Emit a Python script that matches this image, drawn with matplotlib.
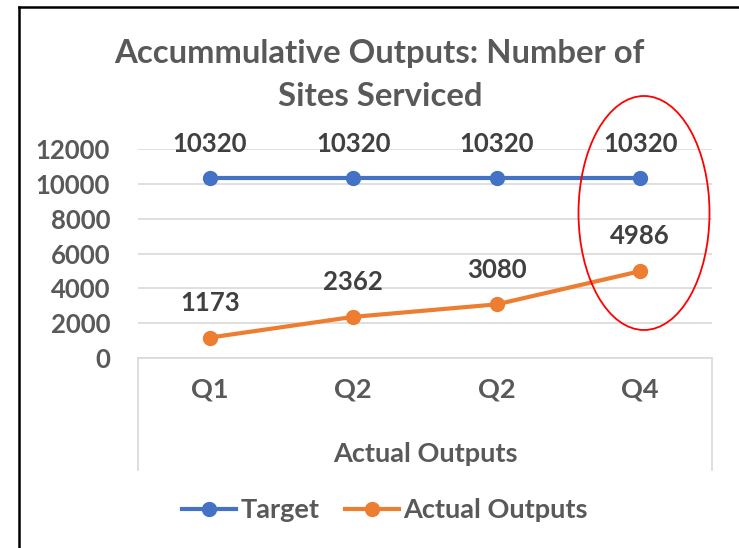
import matplotlib.pyplot as plt
from matplotlib.patches import Ellipse
from matplotlib.lines import Line2D

plt.rcParams['font.family'] = ['Lato', 'DejaVu Sans']

quarters = ['Q1', 'Q2', 'Q2', 'Q4']
target = [10320, 10320, 10320, 10320]
actual = [1173, 2362, 3080, 4986]

blue = '#4472C4'
orange = '#ED7D31'
grey_txt = '#595959'
label_txt = '#404040'

fig = plt.figure(figsize=(7.39, 5.48), dpi=100)
ax = fig.add_axes([0.1867, 0.3467, 0.7768, 0.3814])

x = [i + 0.5 for i in range(len(quarters))]
ax.plot(x, target, color=blue, lw=3, marker='o', ms=10, label='Target', zorder=3)
ax.plot(x, actual, color=orange, lw=3, marker='o', ms=10, label='Actual Outputs', zorder=3)

for xi, v in zip(x, target):
    ax.annotate(str(v), (xi, v), xytext=(0, 25), textcoords='offset points',
                ha='center', va='center', fontsize=18.5, fontweight='bold', color=label_txt)
for xi, v in zip(x, actual):
    ax.annotate(str(v), (xi, v), xytext=(0, 25), textcoords='offset points',
                ha='center', va='center', fontsize=18.5, fontweight='bold', color=label_txt)

ax.set_xlim(0, 4)
ax.set_ylim(0, 12000)
ax.set_yticks(range(0, 12001, 2000))
ax.set_xticks(x)
ax.set_xticklabels(quarters)
ax.yaxis.grid(True, color='#d9d9d9', lw=1.2)
ax.set_axisbelow(True)
for s in ['top', 'right', 'left']:
    ax.spines[s].set_visible(False)
ax.spines['bottom'].set_color('#d9d9d9')
ax.spines['bottom'].set_linewidth(1.2)
ax.tick_params(axis='both', length=0, labelcolor=grey_txt)
ax.tick_params(axis='x', pad=14, labelsize=19.5)
ax.tick_params(axis='y', pad=20, labelsize=18.5)
for lab in ax.get_xticklabels() + ax.get_yticklabels():
    lab.set_fontweight('bold')

# category box sides
box_h = (470 - 358) / 209
for xe in (0, 1):
    ax.plot([xe, xe], [0, -box_h], transform=ax.transAxes, color='#d9d9d9',
            lw=1.2, clip_on=False)

ax.set_xlabel('Actual Outputs', fontsize=19.5, fontweight='bold', color=grey_txt, labelpad=29)

fig.text(0.514, 0.863, 'Accummulative Outputs: Number of\nSites Serviced', ha='center',
         va='center', fontsize=23.7, fontweight='bold', color=grey_txt, linespacing=1.55)

leg = fig.legend(handles=[Line2D([], [], color=blue, lw=3, marker='o', ms=10),
                          Line2D([], [], color=orange, lw=3, marker='o', ms=10)],
                 labels=['Target', 'Actual Outputs'], loc='center', ncol=2,
                 bbox_to_anchor=(0.521, 0.069), frameon=False, fontsize=19.5,
                 handlelength=2.0, handletextpad=0.15, columnspacing=0.95)
for t in leg.get_texts():
    t.set_fontweight('bold')
    t.set_color(grey_txt)

# red ellipse around Q4
fig.patches.append(Ellipse((644 / 739, 1 - 213 / 548), 131 / 739, 234 / 548,
                           transform=fig.transFigure, fill=False, ec='red', lw=1.3))

# outer border (left and top visible)
fig.add_artist(Line2D([19 / 739, 19 / 739], [0, 1 - 7 / 548], transform=fig.transFigure,
                      color='black', lw=1.8))
fig.add_artist(Line2D([19 / 739, 1], [1 - 7 / 548, 1 - 7 / 548], transform=fig.transFigure,
                      color='black', lw=1.8))

fig.savefig('out.png', dpi=100)
